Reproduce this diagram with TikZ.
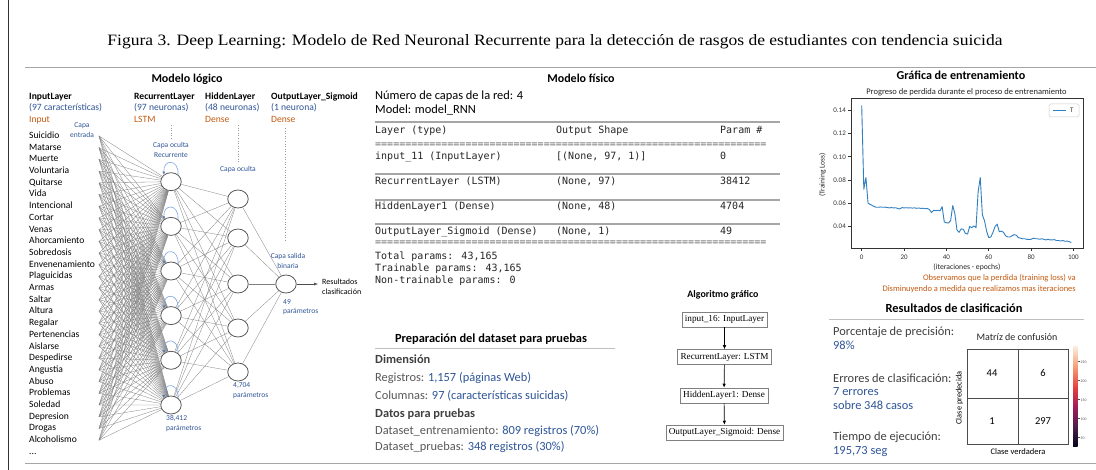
\documentclass[tikz,border=0pt]{standalone}
\usepackage{fontspec}
\setmainfont{Carlito}
\newfontfamily\titlefont{Liberation Serif}
\newfontfamily\algfont{Liberation Serif}
\newfontfamily\monofont{DejaVu Sans Mono}
\usetikzlibrary{arrows.meta,shapes.geometric}
\definecolor{tblue}{HTML}{2F5597}
\definecolor{tbrown}{HTML}{C55A11}
\definecolor{tgray}{HTML}{595959}
\definecolor{tdark}{HTML}{404040}
\definecolor{plotblue}{HTML}{2F7FC1}
\definecolor{loopblue}{HTML}{7EA6E0}
\definecolor{rk0}{HTML}{03051A}
\definecolor{rk1}{HTML}{4C1D4B}
\definecolor{rk2}{HTML}{A11A5B}
\definecolor{rk3}{HTML}{E83F3F}
\definecolor{rk4}{HTML}{F69C73}
\definecolor{rk5}{HTML}{FAEBDD}
\begin{document}
\begin{tikzpicture}[x=1pt,y=-1pt,
  T/.style={inner sep=0pt, anchor=west, text height=0.7em, text depth=0.2em},
  TC/.style={inner sep=0pt, text height=0.7em, text depth=0.2em},
  neuron/.style={draw=black!65, line width=0.8pt, ellipse, minimum width=20.5pt, minimum height=18pt, inner sep=0pt},
  conn/.style={draw=black!50, line width=0.3pt},
  selfloop/.style={draw=loopblue, line width=0.6pt, -{Latex[length=3pt,width=3pt,color=tblue!80]}},
  dotline/.style={draw=black!40, dotted, line width=0.6pt},
  rulegray/.style={draw=black!35, line width=1.3pt},
  thinrule/.style={draw=black!25, line width=0.8pt},
  mono/.style={T, font=\monofont\fontsize{10}{12}\selectfont, text=black!85},
  feat/.style={T, font=\fontsize{9.6}{11}\selectfont},
  hdr/.style={T, font=\bfseries\fontsize{9.6}{11}\selectfont},
  hblue/.style={T, font=\fontsize{9.6}{11}\selectfont, text=tblue},
  hbrown/.style={T, font=\fontsize{9.6}{11}\selectfont, text=tbrown},
  small/.style={inner sep=0pt, align=center, font=\fontsize{7.5}{10}\selectfont, text=tblue},
  smallL/.style={inner sep=0pt, align=left, anchor=west, font=\fontsize{7.5}{9.5}\selectfont, text=tblue},
  algbox/.style={draw=black!50, line width=0.5pt, font=\algfont\fontsize{9.2}{10}\selectfont, inner xsep=3pt, inner ysep=0pt, minimum height=15pt},
  algarrow/.style={-{Latex[length=4pt,width=3.5pt]}, line width=0.7pt},
  body/.style={T, font=\fontsize{12.4}{14}\selectfont},
  ptitle/.style={TC, font=\bfseries\fontsize{12.4}{14}\selectfont},
  tick/.style={TC, font=\fontsize{7}{8}\selectfont, text=black!80}
]
\useasboundingbox (0,0) rectangle (1096,470);
\fill[white] (0,0) rectangle (1096,470);

% frame
\draw[black!80, line width=0.8pt] (8,0) -- (8,470);
\draw[rulegray] (25,67.5) -- (1096,67.5);
\draw[rulegray] (25,463.5) -- (1096,463.5);

% title
\node[inner sep=0pt] (title) at (555,42) {\resizebox{895pt}{11pt}{\titlefont Figura 3. Deep Learning: Modelo de Red Neuronal Recurrente para la detección de rasgos de estudiantes con tendencia suicida}};

% ================= Modelo logico =================
\node[TC, font=\bfseries\fontsize{12}{13}\selectfont] (mlog) at (187,80) {Modelo lógico};

\node[hdr] (h1) at (29,97) {InputLayer};
\node[hblue] (h1b) at (29,108.5) {(97 características)};
\node[hbrown] (h1c) at (29,120) {Input};
\node[hdr] (h2) at (134,97) {RecurrentLayer};
\node[hblue] (h2b) at (134,108.5) {(97 neuronas)};
\node[hbrown] (h2c) at (134,120) {LSTM};
\node[hdr] (h3) at (205,97) {HiddenLayer};
\node[hblue] (h3b) at (205,108.5) {(48 neuronas)};
\node[hbrown] (h3c) at (205,120) {Dense};
\node[hdr] (h4) at (271,97) {OutputLayer\_Sigmoid};
\node[hblue] (h4b) at (271,108.5) {(1 neurona)};
\node[hbrown] (h4c) at (271,120) {Dense};

\node[small] (capaent) at (82,130) {Capa\\entrada};

\foreach \w [count=\i] in {Suicidio,Matarse,Muerte,Voluntaria,Quitarse,Vida,Intencional,Cortar,Venas,Ahorcamiento,Sobredosis,Envenenamiento,Plaguicidas,Armas,Saltar,Altura,Regalar,Pertenencias,Aislarse,Despedirse,Angustia,Abuso,Problemas,Soledad,Depresion,Drogas,Alcoholismo} {
  \node[feat] (f\i) at (29,{136+(\i-1)*11.7}) {\w};
  \coordinate (fo\i) at (99,{136+(\i-1)*11.7});
}
\node[feat] (fdots) at (29,452) {...};

% neurons
\foreach \y [count=\j] in {181.7,226.4,271,315.6,360.3,405} {
  \node[neuron] (r\j) at (171,\y) {};
}
\foreach \y [count=\j] in {199,238,284,328,372} {
  \node[neuron] (d\j) at (238,\y) {};
}
\node[neuron] (out) at (286,284) {};

% connections
\foreach \i in {1,...,27} {
  \foreach \j in {1,...,6} {
    \draw[conn] (fo\i) -- (r\j);
  }
}
\foreach \i in {1,...,6} {
  \foreach \j in {1,...,5} {
    \draw[conn] (r\i) -- (d\j);
  }
}
\foreach \j in {1,...,5} {
  \draw[conn] (d\j) -- (out);
}
% self loops
\foreach \j in {1,...,6} {
  \draw[selfloop] (r\j.45) .. controls +(1,-16) and +(-1,-16) .. (r\j.135);
}

% dotted guides
\draw[dotline] (171,125) -- (171,139);
\draw[dotline] (238,125) -- (238,162);
\draw[dotline] (285,128) -- (285,242);

\node[small] (capaor) at (171,150) {Capa oculta\\Recurrente};
\node[small] (capao) at (238,169.5) {Capa oculta};
\node[small] (capas) at (288,261) {Capa salida\\binaria};

\node[inner sep=0pt, align=left, anchor=west, font=\fontsize{8}{10}\selectfont] (res) at (322,287) {Resultados\\clasificación};
\draw[-{Latex[length=4pt,width=3pt]}, black!70, line width=0.5pt, shorten >=4pt] (out.east) -- (out.east -| res.west);

\node[smallL] (p49) at (283,307) {49\\parámetros};
\node[smallL] (p4704) at (233,390.5) {4,704\\parámetros};
\node[smallL] (p38412) at (166,423.5) {38,412\\parámetros};

% ================= Modelo fisico =================
\node[TC, font=\bfseries\fontsize{12}{13}\selectfont] (mfis) at (581,80) {Modelo físico};
\node[body] (ncap) at (375,97.5) {Número de capas de la red: 4};
\node[body] (mname) at (375,111.5) {Model: model\_RNN};

\draw[rulegray] (375,122) -- (780,122);
\node[mono] (c1) at (375,131) {Layer (type)};
\node[mono] (c2) at (556,131) {Output Shape};
\node[mono] (c3) at (720,131) {Param \#};
\node[mono, text=black!60] (eq1) at (375,145) {=================================================================};
\node[mono] (l1a) at (375,157) {input\_11 (InputLayer)};
\node[mono] (l1b) at (556,157) {[(None, 97, 1)]};
\node[mono] (l1c) at (720,157) {0};
\draw[rulegray] (375,174) -- (780,174);
\node[mono] (l2a) at (375,182.5) {RecurrentLayer (LSTM)};
\node[mono] (l2b) at (556,182.5) {(None, 97)};
\node[mono] (l2c) at (720,182.5) {38412};
\draw[rulegray] (375,200) -- (780,200);
\node[mono] (l3a) at (375,207) {HiddenLayer1 (Dense)};
\node[mono] (l3b) at (556,207) {(None, 48)};
\node[mono] (l3c) at (720,207) {4704};
\draw[rulegray] (375,224) -- (780,224);
\node[mono] (l4a) at (375,232.5) {OutputLayer\_Sigmoid (Dense)};
\node[mono] (l4b) at (556,232.5) {(None, 1)};
\node[mono] (l4c) at (720,232.5) {49};
\node[mono, text=black!60] (eq2) at (375,243.5) {=================================================================};
\node[mono] (tp1) at (375,257) {Total params: 43,165};
\node[mono] (tp2) at (375,269) {Trainable params: 43,165};
\node[mono] (tp3) at (375,281) {Non-trainable params: 0};

% dataset preparation
\node[ptitle] (prep) at (491,340) {Preparación del dataset para pruebas};
\draw[thinrule] (375,348.5) -- (615,348.5);
\node[body, font=\bfseries\fontsize{12.4}{14}\selectfont, text=tdark] (dim) at (375,361) {Dimensión};
\node[body, text=tgray] (reg) at (375,379) {Registros: \textcolor{tblue}{1,157 (páginas Web)}};
\node[body, text=tgray] (col) at (375,397) {Columnas: \textcolor{tblue}{97 (características suicidas)}};
\node[body, font=\bfseries\fontsize{12.4}{14}\selectfont, text=tdark] (dpp) at (375,415.5) {Datos para pruebas};
\node[body, text=tgray] (dse) at (375,432) {Dataset\_entrenamiento: \textcolor{tblue}{809 registros (70\%)}};
\node[body, text=tgray] (dsp) at (375,447.5) {Dataset\_pruebas: \textcolor{tblue}{348 registros (30\%)}};

% algorithm
\node[TC, font=\bfseries\fontsize{9.9}{11}\selectfont] (algt) at (723,295) {Algoritmo gráfico};
\node[algbox] (a1) at (724.5,319.5) {input\_16: InputLayer};
\node[algbox] (a2) at (724.5,357) {RecurrentLayer: LSTM};
\node[algbox] (a3) at (724,395.5) {HiddenLayer1: Dense};
\node[algbox] (a4) at (724.5,432.5) {OutputLayer\_Sigmoid: Dense};
\draw[algarrow] (a1) -- (a2);
\draw[algarrow] (a2) -- (a3);
\draw[algarrow] (a3) -- (a4);

% ================= Grafica =================
\node[TC, font=\bfseries\fontsize{12.1}{13}\selectfont] (gt) at (961,77) {Gráfica de entrenamiento};
\node[TC, font=\fontsize{8.5}{9}\selectfont, text=black!85] (gst) at (966.5,92) {Progreso de perdida durante el proceso de entrenamiento};

\coordinate (ax1) at (851,98);
\coordinate (ax2) at (1083,248);
\draw[black!80, line width=0.6pt] (ax1) rectangle (ax2);
\foreach \e/\lab in {0/0,20/20,40/40,60/60,80/80,100/100} {
  \draw[black!80, line width=0.5pt] ({861.7+\e*2.117},248) -- ({861.7+\e*2.117},251.5);
  \node[tick] at ({861.7+\e*2.117},257.5) {\lab};
}
\foreach \v/\lab in {14/0.14,12/0.12,10/0.10,8/0.08,6/0.06,4/0.04} {
  \draw[black!80, line width=0.5pt] (851,{110+(14-\v)*11.65}) -- (847.5,{110+(14-\v)*11.65});
  \node[tick, anchor=east] at (846,{110+(14-\v)*11.65}) {\lab};
}
\node[TC, font=\fontsize{7.7}{8}\selectfont, text=black!85] (xl) at (967,267.5) {(iteraciones - epochs)};
\node[TC, font=\fontsize{7.5}{8}\selectfont, text=black!85, rotate=90] (yl) at (822,175) {(Training Loss)};

\begin{scope}[shift={(861.7,273.1)}, x=2.117pt, y=1.165pt]
\draw[plotblue, line width=0.9pt, line join=round] plot coordinates {
(0,144)(1,72)(2,82)(3,60)(4,59)(5,58)(6,57)(7,56.5)(8,56.5)(9,56.8)(10,56.5)(11,56.6)(12,56.3)(13,56)(14,56.2)(15,56)(16,56.1)(17,55.5)(18,55)(19,56.2)(20,56)(21,56.1)(22,55.9)(23,56)(24,55.8)(25,56)(26,55.6)(27,55.9)(28,55.5)(29,55.7)(30,55.2)(31,55.5)(32,54.5)(33,52)(34,54)(35,53.5)(36,54)(37,53.5)(38,57)(39,44)(40,43.2)(41,43)(42,45)(43,58)(44,51)(45,37)(46,35)(47,38)(48,37.5)(49,34)(50,33.5)(51,40)(52,39)(53,40.5)(54,39)(55,70)(56,82)(57,50)(58,45)(59,36)(60,30.5)(61,31)(62,35)(63,40)(64,42)(65,35.5)(66,36)(67,35)(68,32)(69,31)(70,31)(71,32)(72,33)(73,32.5)(74,30.5)(75,30)(76,29.5)(77,29.5)(78,29)(79,29)(80,29)(81,30)(82,29.5)(83,29.5)(84,29)(85,29.5)(86,29)(87,28.5)(88,29)(89,28.5)(90,28.5)(91,28.7)(92,28)(93,28)(94,27.5)(95,28)(96,27.3)(97,27.5)(98,27)(99,26.2)};
\end{scope}

% legend
\draw[black!20, rounded corners=1.5pt, fill=white, line width=0.5pt] (1049,104) rectangle (1079,117);
\draw[plotblue, line width=0.9pt] (1053,110.5) -- (1066,110.5);
\node[tick, anchor=west] (lgT) at (1070,110.5) {T};

\node[TC, anchor=east, font=\fontsize{8.5}{10}\selectfont, text=tbrown] (obs1) at (1076,278) {Observamos que la perdida (training loss) va};
\node[TC, anchor=east, font=\fontsize{8.5}{10}\selectfont, text=tbrown] (obs2) at (1076,289.5) {Disminuyendo a medida que realizamos mas iteraciones};

% ================= Resultados =================
\node[ptitle] (rt) at (954,310) {Resultados de clasificación};
\draw[thinrule] (829,319.5) -- (1084,319.5);
\node[body, text=tdark] (pp) at (833,333) {Porcentaje de precisión:};
\node[body, text=tblue] (pp2) at (833,347) {98\%};
\node[body, text=tdark] (ec) at (833,380) {Errores de clasificación:};
\node[body, text=tblue] (ec2) at (833,393.5) {7 errores};
\node[body, text=tblue] (ec3) at (833,407) {sobre 348 casos};
\node[body, text=tdark] (te) at (833,438) {Tiempo de ejecución:};
\node[body, text=tblue] (te2) at (833,452) {195,73 seg};

\node[TC, font=\fontsize{10}{11}\selectfont, text=black!85] (mct) at (1017,338) {Matríz de confusión};
\draw[black!70, line width=0.6pt] (967,349) rectangle (1068,444);
\draw[black!70, line width=0.6pt] (1018,349) -- (1018,444);
\draw[black!70, line width=0.6pt] (967,398) -- (1068,398);
\node[TC, font=\fontsize{10.5}{11}\selectfont] (m11) at (992,374) {44};
\node[TC, font=\fontsize{10.5}{11}\selectfont] (m12) at (1043,374) {6};
\node[TC, font=\fontsize{10.5}{11}\selectfont] (m21) at (992,422.5) {1};
\node[TC, font=\fontsize{10.5}{11}\selectfont] (m22) at (1043,422.5) {297};
\node[TC, font=\fontsize{8.3}{9}\selectfont, rotate=90] (cp) at (959,398) {Clase predecida};
\node[TC, font=\fontsize{8.5}{9}\selectfont] (cv) at (1018,452) {Clase verdadera};

\shade[bottom color=rk0, top color=rk1] (1073,447) rectangle (1077.5,427);
\shade[bottom color=rk1, top color=rk2] (1073,427.2) rectangle (1077.5,407);
\shade[bottom color=rk2, top color=rk3] (1073,407.2) rectangle (1077.5,387);
\shade[bottom color=rk3, top color=rk4] (1073,387.2) rectangle (1077.5,367);
\shade[bottom color=rk4, top color=rk5] (1073,367.2) rectangle (1077.5,347);
\foreach \y/\lab in {361/250,380/200,399/150,418/100,437/50} {
  \draw[black!70, line width=0.3pt] (1077.5,\y) -- (1079.5,\y);
  \node[TC, anchor=west, font=\fontsize{3.8}{4}\selectfont, text=black!70] at (1080.5,\y) {\lab};
}
\end{tikzpicture}
\end{document}
